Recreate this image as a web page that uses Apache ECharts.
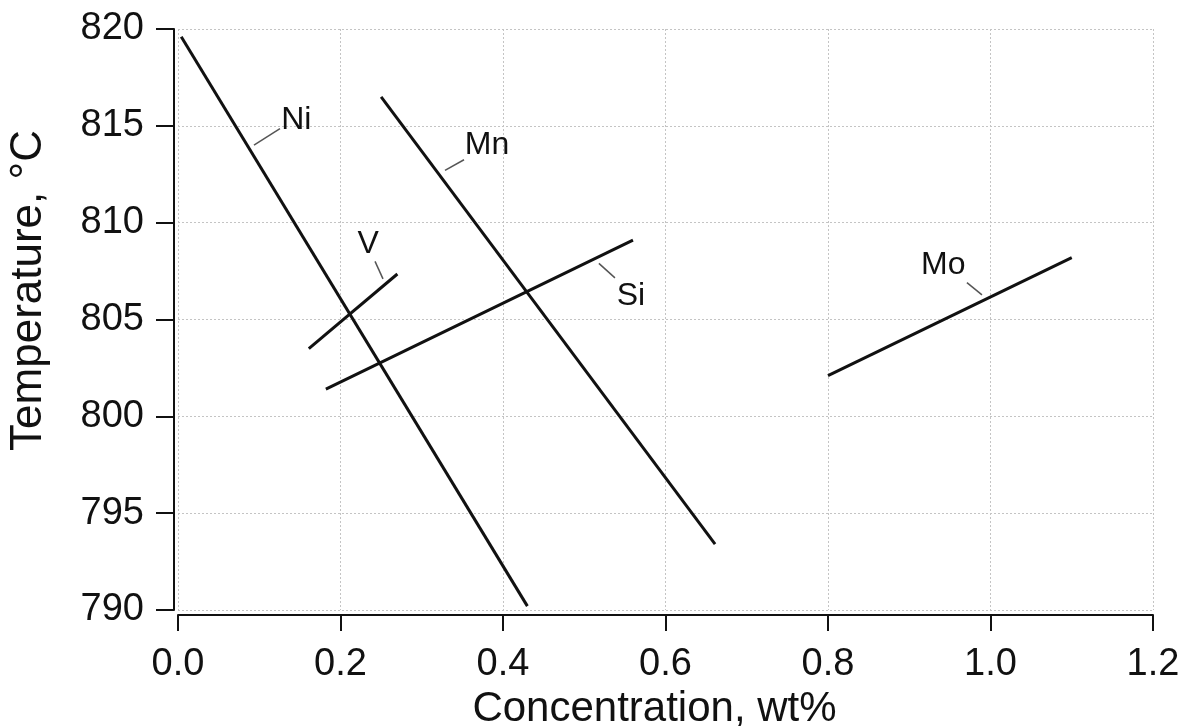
<!DOCTYPE html>
<html>
<head>
<meta charset="utf-8">
<script src="https://cdn.jsdelivr.net/npm/echarts@6/dist/echarts.min.js"></script>
<style>
  html, body { margin: 0; padding: 0; background: #fff; }
  #chart { width: 1192px; height: 726px; }
</style>
</head>
<body>
<div id="chart"></div>
<script>
// Transformation temperature versus alloying element content.
// Each element is one straight line, given by its two end points [wt%, °C].
const elements = ['Ni', 'Mn', 'V', 'Si', 'Mo'];
const niLine = [[0.004, 819.6], [0.43, 790.2]];
const mnLine = [[0.25, 816.5], [0.661, 793.4]];
const vLine  = [[0.161, 803.5], [0.27, 807.35]];
const siLine = [[0.182, 801.4], [0.56, 809.1]];
const moLine = [[0.8, 802.1], [1.1, 808.2]];

// Element tags: text anchor and the short leader that points at each line.
const tagPos     = [[0.127, 815.3], [0.353, 814.0], [0.234, 808.9], [0.540, 806.2], [0.9145, 807.8]];
const tagPlace   = ['right', 'right', 'inside', 'right', 'right'];
const leaderFrom = [[0.0935, 814.0], [0.3286, 812.7], [0.2425, 808.0], [0.518, 807.9], [0.971, 806.9]];
const leaderTo   = [[0.1255, 814.85], [0.352, 813.25], [0.2523, 807.1], [0.5378, 807.15], [0.9895, 806.27]];

// Axis ranges and tick steps
const xRange = [0, 1.2], xStep = 0.2;
const yRange = [790, 820], yStep = 5;

const FONT = 'Liberation Sans, Arial, Helvetica, sans-serif';
const lines = [niLine, mnLine, vLine, siLine, moLine];

const series = [];
lines.forEach((pts, i) => {
  series.push({
    name: elements[i],
    type: 'line',
    data: pts,
    symbol: 'none',
    silent: true,
    lineStyle: { color: '#111', width: 3 },
    z: 3
  });
});
elements.forEach((el, i) => {
  series.push({
    name: el + ' leader',
    type: 'line',
    data: [leaderFrom[i], leaderTo[i]],
    symbol: 'none',
    silent: true,
    lineStyle: { color: '#555', width: 1.5 },
    z: 2
  });
});
series.push({
  name: 'tags',
  type: 'scatter',
  symbolSize: 0,
  silent: true,
  itemStyle: { opacity: 1 },
  data: elements.map((el, i) => ({
    value: tagPos[i],
    name: el,
    label: { position: tagPlace[i] }
  })),
  label: {
    show: true,
    distance: 0,
    formatter: p => p.name,
    fontFamily: FONT,
    fontSize: 32,
    color: '#111'
  },
  z: 4
});

const gridLine = { show: true, lineStyle: { color: '#c4c4c4', width: 1, type: [2, 2] } };

const option = {
  animation: false,
  backgroundColor: '#fff',
  grid: { left: 178, right: 39, top: 29, bottom: 116, containLabel: false, outerBoundsMode: 'none' },
  xAxis: {
    type: 'value',
    min: xRange[0], max: xRange[1], interval: xStep,
    offset: 5,
    name: 'Concentration, wt%',
    nameLocation: 'middle',
    nameGap: 60,
    nameTextStyle: { fontFamily: FONT, fontSize: 42, color: '#111', padding: [0, 22, 0, 0] },
    axisLine: { show: true, onZero: false, lineStyle: { color: '#111', width: 2 } },
    axisTick: { show: true, length: 16, lineStyle: { color: '#111', width: 2 } },
    axisLabel: { fontFamily: FONT, fontSize: 38, color: '#111', margin: 31,
                 formatter: v => v.toFixed(1) },
    splitLine: gridLine
  },
  yAxis: {
    type: 'value',
    min: yRange[0], max: yRange[1], interval: yStep,
    offset: 4,
    name: 'Temperature, °C',
    nameLocation: 'middle',
    nameRotate: 90,
    nameGap: 123,
    nameTextStyle: { fontFamily: FONT, fontSize: 44, color: '#111', padding: [0, 0, 0, 58] },
    axisLine: { show: true, onZero: false, lineStyle: { color: '#111', width: 2 } },
    axisTick: { show: true, length: 18, lineStyle: { color: '#111', width: 2 } },
    axisLabel: { fontFamily: FONT, fontSize: 38, color: '#111', margin: 30 },
    splitLine: gridLine
  },
  series: series
};

const chart = echarts.init(document.getElementById('chart'), null, { renderer: 'canvas' });
chart.setOption(option);
</script>
</body>
</html>
